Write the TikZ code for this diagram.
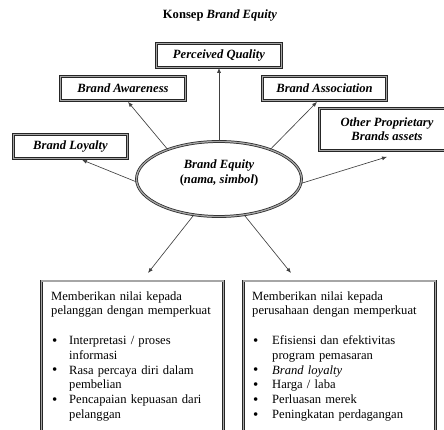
\documentclass[tikz,border=0pt]{standalone}
\usepackage{fontspec}
\setmainfont{Liberation Serif}
\usetikzlibrary{arrows.meta,shapes.geometric,calc}
\newcommand{\blt}{\raisebox{-0.6pt}{\fontsize{15}{15}\selectfont\textbullet}}
\begin{document}
\begin{tikzpicture}[x=1pt,y=-1pt,
  frame/.style={draw=black!85, line width=0.75pt, double=gray!70, double distance=1.3pt},
  hbox/.style={frame, rectangle, inner sep=0pt, align=center,
    font=\fontsize{12.6}{14}\selectfont\bfseries\itshape},
  bodytext/.style={anchor=base west, inner sep=0pt, align=left, text width=176pt,
    font=\fontsize{12.6}{14.8}\selectfont},
  conn/.style={draw=black!75, line width=0.65pt, -{Latex[length=5pt,width=4pt]}}
]
\useasboundingbox (0,0) rectangle (444,430);
\clip (0,0) rectangle (444,430);

\node[font=\fontsize{12.6}{14}\selectfont\bfseries] (title) at (220,15) {Konsep \textit{Brand Equity}};

\node[hbox, minimum width=125pt, minimum height=24pt] (pq) at (219,55.5) {Perceived Quality};
\node[hbox, minimum width=125pt, minimum height=24pt] (ba) at (123,88.5) {Brand Awareness};
\node[hbox, minimum width=124pt, minimum height=24pt] (bas) at (324.5,88.5) {Brand Association};
\node[hbox, minimum width=135pt, minimum height=42pt] (op) at (387,129.5) {Other Proprietary\\Brands assets};
\node[hbox, minimum width=114pt, minimum height=24pt] (bl) at (70.5,146.5) {Brand Loyalty};

\node[frame, ellipse, minimum width=165pt, minimum height=75pt, inner sep=0pt] (eq) at (219,179) {};
\node[align=center, inner sep=0pt, font=\fontsize{12.6}{15}\selectfont\bfseries\itshape] (eqt) at (219,173) {Brand Equity\\\textup{(}nama, simbol\textup{)}};

\node[frame, rectangle, minimum width=182pt, minimum height=164pt, inner sep=0pt] (lb) at (132.5,363) {};
\node[frame, rectangle, minimum width=192pt, minimum height=164pt, inner sep=0pt] (rb) at (339.5,363) {};

\node[bodytext] (lbt) at (51,300) {Memberikan nilai kepada\\
pelanggan dengan memperkuat\\[14.8pt]
\makebox[18pt][l]{\hspace{1pt}\blt}Interpretasi / proses\\
\hspace*{18pt}informasi\\
\makebox[18pt][l]{\hspace{1pt}\blt}Rasa percaya diri dalam\\
\hspace*{18pt}pembelian\\
\makebox[18pt][l]{\hspace{1pt}\blt}Pencapaian kepuasan dari\\
\hspace*{18pt}pelanggan};

\node[bodytext] (rbt) at (252,300) {Memberikan nilai kepada\\
perusahaan dengan memperkuat\\[14.8pt]
\makebox[20pt][l]{\hspace{1pt}\blt}Efisiensi dan efektivitas\\
\hspace*{20pt}program pemasaran\\
\makebox[20pt][l]{\hspace{1pt}\blt}\textit{Brand loyalty}\\
\makebox[20pt][l]{\hspace{1pt}\blt}Harga / laba\\
\makebox[20pt][l]{\hspace{1pt}\blt}Perluasan merek\\
\makebox[20pt][l]{\hspace{1pt}\blt}Peningkatan perdagangan};

\coordinate (tipL) at (148,273);
\coordinate (tipR) at (291,273);

\draw[conn] (eq.north) -- (pq.south);
\draw[conn] (eq.150) -- ($(ba.south)+(5,1)$);
\draw[conn] (eq.30) -- ($(bas.south)+(-7.5,1)$);
\draw[conn] (eq.182) -- ($(bl.south)+(11.5,1)$);
\draw[conn] (eq.357) -- ($(op.south)+(0,6)$);
\draw[conn] (eq.235) -- (tipL);
\draw[conn] (eq.305) -- (tipR);
\end{tikzpicture}
\end{document}
